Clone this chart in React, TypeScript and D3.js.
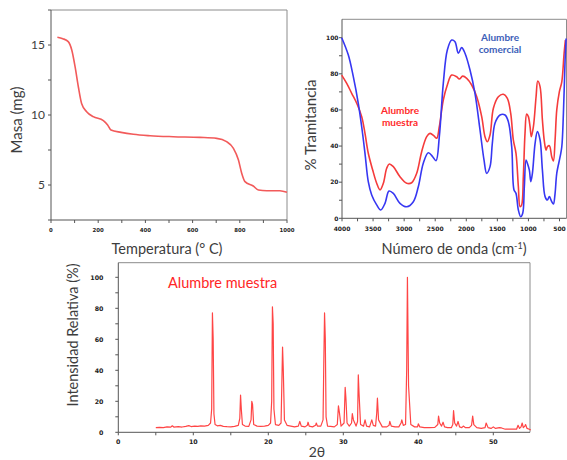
import React from "react";
import * as d3 from "d3";

// ---------- TGA data (temperature °C, mass mg) ----------
const tgaTemp = [27, 50, 73, 88, 102, 116, 130, 151, 179, 222, 240, 254, 297, 349, 420, 518, 631, 702, 744, 773, 794, 808, 822, 857, 879, 914, 970, 1000];
const tgaMass = [15.55, 15.45, 15.24, 14.64, 13.45, 12.0, 10.8, 10.24, 9.88, 9.6, 9.29, 8.93, 8.76, 8.62, 8.52, 8.45, 8.4, 8.33, 8.1, 7.62, 6.8, 5.84, 5.24, 4.93, 4.64, 4.59, 4.59, 4.48];
const tgaXTicks = [0, 200, 400, 600, 800, 1000];
const tgaXMinor = [100, 300, 500, 700, 900];
const tgaYTicks = [5, 10, 15];
const tgaYMinor = [2.5, 7.5, 12.5, 17.5];

// ---------- FTIR data (wavenumber cm-1, % transmittance) ----------
const irBlueWn = [4005, 3898, 3818, 3738, 3683, 3630, 3577, 3522, 3442, 3377, 3308, 3244, 3174, 3067, 2959, 2852, 2772, 2692, 2611, 2541, 2487, 2434, 2370, 2305, 2235, 2182, 2128, 2074, 2021, 1940, 1860, 1779, 1715, 1672, 1618, 1581, 1538, 1457, 1377, 1323, 1269, 1232, 1200, 1162, 1124, 1092, 1066, 1038, 1017, 985, 962, 936, 893, 856, 813, 775, 732, 695, 663, 625, 598, 571, 544, 490, 463, 437, 410, 394];
const irBlueT = [100, 90.4, 78.4, 63.7, 50.7, 36, 20.3, 12.9, 7.4, 4.6, 8.3, 15.1, 13.8, 8.3, 6.4, 9.2, 17.5, 30.5, 36.3, 34.1, 31.9, 45.2, 74.7, 93.2, 98.7, 97.8, 91.4, 94.5, 91.4, 82.1, 69.2, 48.9, 32.3, 24.9, 28.6, 41.5, 52.6, 57.2, 57.2, 53.5, 39.6, 15.7, 13.8, 4.6, 0.9, 2.8, 17.5, 32.3, 30.5, 26.7, 20.3, 24.9, 41.5, 48, 43.4, 26.7, 12, 10.1, 12, 9.2, 7.9, 13.8, 24.9, 34.1, 39.6, 58.1, 87.6, 99.6];
const irRedWn = [4005, 3924, 3844, 3763, 3683, 3630, 3577, 3506, 3442, 3388, 3335, 3281, 3239, 3174, 3067, 2959, 2879, 2798, 2718, 2637, 2584, 2519, 2476, 2434, 2370, 2305, 2235, 2155, 2112, 2058, 1993, 1913, 1832, 1752, 1699, 1661, 1618, 1564, 1484, 1404, 1339, 1285, 1243, 1200, 1162, 1135, 1109, 1082, 1055, 1028, 1001, 974, 953, 920, 877, 850, 813, 775, 743, 716, 695, 663, 625, 598, 571, 544, 502, 463, 426, 405];
const irRedT = [79.3, 74.7, 69.2, 63.7, 56.3, 47, 36, 26.7, 19.4, 15.7, 19.4, 27.7, 30.1, 28.6, 23, 19.4, 19.7, 24.9, 36.9, 45.2, 47, 45.6, 44.3, 50.7, 65.5, 73.8, 79.3, 78.4, 77.1, 78.7, 77.5, 73.8, 67.3, 56.3, 45.2, 42.4, 46.1, 60.9, 67.3, 68.7, 66.4, 58.1, 43.4, 36, 17.5, 6.4, 7.4, 23, 47, 57.7, 56.3, 50.7, 45.2, 50.7, 67.3, 76, 72.9, 54.4, 42.4, 37.8, 39.6, 40.2, 34.1, 31.7, 43.4, 60, 70.1, 75.6, 91.4, 98.7];
const irXTicks = [4000, 3500, 3000, 2500, 2000, 1500, 1000, 500];
const irXMinor = [3750, 3250, 2750, 2250, 1750, 1250, 750];
const irYTicks = [0, 20, 40, 60, 80, 100];
const irYMinor = [10, 30, 50, 70, 90];

// ---------- XRD data (2θ, relative intensity %) ----------
const xrdTheta = [5.0, 5.5, 6.0, 6.5, 7.0, 7.2, 7.4, 8.0, 8.5, 9.0, 9.4, 9.7, 10.2, 10.6, 11.0, 11.5, 12.0, 12.3, 12.45, 12.55, 12.65, 12.75, 12.9, 13.2, 13.6, 14.0, 14.5, 15.0, 15.5, 16.0, 16.2, 16.3, 16.4, 16.55, 16.9, 17.4, 17.7, 17.8, 17.9, 18.05, 18.5, 19.0, 19.5, 20.0, 20.3, 20.45, 20.55, 20.65, 20.75, 20.95, 21.4, 21.7, 21.8, 21.9, 22.0, 22.15, 22.5, 23.0, 23.5, 24.0, 24.2, 24.4, 24.9, 25.2, 25.3, 25.45, 25.9, 26.3, 26.4, 26.55, 27.0, 27.3, 27.4, 27.5, 27.6, 27.7, 27.9, 28.3, 28.8, 29.2, 29.35, 29.5, 29.7, 30.1, 30.25, 30.35, 30.5, 30.8, 31.1, 31.2, 31.35, 31.7, 31.9, 32.0, 32.1, 32.3, 32.7, 32.9, 33.1, 33.5, 33.8, 34.0, 34.3, 34.45, 34.55, 34.7, 35.2, 35.8, 36.1, 36.2, 36.4, 36.9, 37.4, 37.7, 37.8, 38.0, 38.3, 38.45, 38.55, 38.7, 39.0, 39.5, 39.9, 40.0, 40.2, 40.8, 41.5, 42.2, 42.6, 42.7, 42.85, 43.1, 43.3, 43.5, 43.9, 44.4, 44.6, 44.7, 44.85, 45.1, 45.3, 45.5, 45.8, 46.0, 46.3, 46.8, 47.1, 47.25, 47.4, 47.8, 48.4, 48.9, 49.05, 49.3, 49.7, 50.0, 50.3, 50.8, 51.1, 51.6, 52.2, 52.8, 53.1, 53.3, 53.5, 53.7, 53.85, 54.0, 54.2, 54.3, 54.5, 54.8, 55.0];
const xrdInt = [3.0, 3.2, 3.0, 3.5, 3.3, 4.2, 3.4, 3.6, 3.4, 3.8, 4.3, 3.7, 4.0, 3.8, 4.2, 4.0, 4.5, 6.0, 15, 77, 60, 12, 5.0, 4.2, 4.5, 3.8, 3.6, 3.5, 3.8, 4.5, 9, 24, 15, 5.0, 4.0, 3.8, 8, 20, 18, 5.0, 4.0, 3.8, 4.0, 4.5, 6.0, 20, 81, 70, 15, 5.0, 4.5, 6.0, 30, 55, 40, 8, 4.5, 4.0, 3.5, 4.0, 7.0, 4.0, 3.5, 4.5, 6.5, 4.0, 3.5, 4.5, 6.0, 4.0, 4.0, 8, 45, 77, 60, 10, 4.0, 3.8, 3.5, 5.0, 17, 12, 4.0, 6.0, 29, 22, 6.0, 4.0, 6.0, 12, 8, 4.0, 7.0, 37, 25, 5.0, 4.0, 8.0, 4.0, 3.5, 8.0, 4.5, 4.0, 12, 22, 8, 3.5, 3.5, 4.5, 7.0, 4.0, 3.5, 3.5, 6.0, 8.0, 4.5, 5.0, 40, 100, 30, 5.0, 3.5, 3.5, 5.5, 3.5, 3.0, 3.0, 3.2, 5.0, 10.5, 6.0, 4.0, 6.5, 3.5, 3.0, 3.0, 5.0, 14, 6.0, 4.0, 7.0, 3.5, 3.0, 4.0, 3.0, 3.0, 4.5, 10.5, 5.0, 3.0, 2.5, 3.0, 6.0, 3.0, 2.5, 3.5, 2.5, 3.0, 2.8, 2.0, 2.0, 2.0, 2.0, 4.5, 2.5, 3.5, 6.0, 3.0, 4.0, 5.0, 2.5, 2.0, 1.5];
const xrdXTicks = [0, 10, 20, 30, 40, 50];
const xrdXMinor = [5, 15, 25, 35, 45, 55];
const xrdYTicks = [0, 20, 40, 60, 80, 100];
const xrdYMinor = [10, 30, 50, 70, 90];

const TITLE_FONT = "Lato, 'Open Sans', sans-serif";
const TICK_FONT = "'DejaVu Sans', sans-serif";
const TITLE_COLOR = "#3d3d3d";
const AXIS_COLOR = "#555";
const FRAME_COLOR = "#8c8c8c";

function Frame({ x0, x1, y0, y1 }: { x0: number; x1: number; y0: number; y1: number }) {
  return (
    <g>
      <line x1={x0} x2={x1} y1={y0} y2={y0} stroke={FRAME_COLOR} strokeWidth={1} />
      <line x1={x1} x2={x1} y1={y0} y2={y1} stroke={FRAME_COLOR} strokeWidth={1} />
      <line x1={x0} x2={x0} y1={y0} y2={y1} stroke={AXIS_COLOR} strokeWidth={1} />
      <line x1={x0} x2={x1} y1={y1} y2={y1} stroke={AXIS_COLOR} strokeWidth={1} />
    </g>
  );
}

export default function App() {
  // TGA
  const tx = d3.scaleLinear().domain([0, 1000]).range([51, 287]);
  const ty = d3.scaleLinear().domain([2.5, 17.5]).range([220, 10]);
  const tgaLine = d3
    .line<number>()
    .x((_, i) => tx(tgaTemp[i]))
    .y((_, i) => ty(tgaMass[i]))
    .curve(d3.curveMonotoneX)(tgaTemp.map((_, i) => i));

  // FTIR
  const ix = d3.scaleLinear().domain([4000, 500]).range([342, 559.5]);
  const iy = d3.scaleLinear().domain([0, 100]).range([218.3, 37.7]);
  const irRight = 566.5;
  const irTop = 19.3;
  const blueLine = d3
    .line<number>()
    .x((i) => ix(irBlueWn[i]))
    .y((i) => iy(irBlueT[i]))
    .curve(d3.curveCatmullRom.alpha(0.5))(irBlueWn.map((_, i) => i));
  const redLine = d3
    .line<number>()
    .x((i) => ix(irRedWn[i]))
    .y((i) => iy(irRedT[i]))
    .curve(d3.curveCatmullRom.alpha(0.5))(irRedWn.map((_, i) => i));

  // XRD
  const xx = d3.scaleLinear().domain([0, 55]).range([118.3, 530.8]);
  const xy = d3.scaleLinear().domain([0, 100]).range([432.3, 277.3]);
  const xrdLine = d3
    .line<number>()
    .x((i) => xx(xrdTheta[i]))
    .y((i) => xy(xrdInt[i]))(xrdTheta.map((_, i) => i));

  const tickText = { fontFamily: TICK_FONT, fontWeight: 700, fill: "#222" } as const;

  return (
    <svg
      width={567}
      height={460}
      style={{ position: "absolute", left: 0, top: 0, background: "#fff" }}
      xmlns="http://www.w3.org/2000/svg"
    >
      <rect width={567} height={460} fill="#fff" />

      {/* ================= TGA ================= */}
      <Frame x0={tx(0)} x1={tx(1000)} y0={ty(17.5)} y1={ty(2.5)} />
      {tgaXTicks.concat(tgaXMinor).map((t) => (
        <line key={"tgx" + t} x1={tx(t)} x2={tx(t)} y1={ty(2.5)} y2={ty(2.5) + 3} stroke={AXIS_COLOR} />
      ))}
      {tgaXTicks.map((t) => (
        <text key={"tgxl" + t} x={tx(t)} y={ty(2.5) + 12} textAnchor="middle" fontSize={5.4} {...tickText}>
          {t}
        </text>
      ))}
      {tgaYTicks.concat(tgaYMinor).map((t) => (
        <line key={"tgy" + t} x1={tx(0) - 3} x2={tx(0)} y1={ty(t)} y2={ty(t)} stroke={AXIS_COLOR} />
      ))}
      {tgaYTicks.map((t) => (
        <text key={"tgyl" + t} x={45} y={ty(t) + 4} textAnchor="end" fontSize={12} fontFamily={TITLE_FONT} fill={TITLE_COLOR}>
          {t}
        </text>
      ))}
      <path d={tgaLine || ""} fill="none" stroke="#f25a5a" strokeWidth={1.6} />
      <text
        transform="translate(22,120) rotate(-90)"
        textAnchor="middle"
        fontSize={15}
        fontFamily={TITLE_FONT}
        fill={TITLE_COLOR}
      >
        Masa (mg)
      </text>
      <text x={167} y={254} textAnchor="middle" fontSize={14.5} fontFamily={TITLE_FONT} fill={TITLE_COLOR}>
        Temperatura (° C)
      </text>

      {/* ================= FTIR ================= */}
      <Frame x0={ix(4000)} x1={irRight} y0={irTop} y1={iy(0)} />
      {irXTicks.concat(irXMinor).map((t) => (
        <line key={"ix" + t} x1={ix(t)} x2={ix(t)} y1={iy(0)} y2={iy(0) + 3} stroke={AXIS_COLOR} />
      ))}
      {irXTicks.map((t) => (
        <text key={"ixl" + t} x={ix(t)} y={iy(0) + 13} textAnchor="middle" fontSize={6} {...tickText}>
          {t}
        </text>
      ))}
      {irYTicks.concat(irYMinor).map((t) => (
        <line key={"iy" + t} x1={ix(4000) - 3} x2={ix(4000)} y1={iy(t)} y2={iy(t)} stroke={AXIS_COLOR} />
      ))}
      {irYTicks.map((t) => (
        <text key={"iyl" + t} x={338.5} y={iy(t) + 2.2} textAnchor="end" fontSize={6} {...tickText}>
          {t}
        </text>
      ))}
      <path d={redLine || ""} fill="none" stroke="#f53b3b" strokeWidth={1.6} />
      <path d={blueLine || ""} fill="none" stroke="#3737f2" strokeWidth={1.6} />
      <text x={500} y={40.5} textAnchor="middle" fontSize={10} fontWeight={700} fontFamily={TITLE_FONT} fill="#3d60b8">
        Alumbre
      </text>
      <text x={500} y={53} textAnchor="middle" fontSize={10} fontWeight={700} fontFamily={TITLE_FONT} fill="#3d60b8">
        comercial
      </text>
      <text x={400} y={113.5} textAnchor="middle" fontSize={10} fontWeight={700} fontFamily={TITLE_FONT} fill="#ff2a2a">
        Alumbre
      </text>
      <text x={400} y={126} textAnchor="middle" fontSize={10} fontWeight={700} fontFamily={TITLE_FONT} fill="#ff2a2a">
        muestra
      </text>
      <text
        transform="translate(316,125) rotate(-90)"
        textAnchor="middle"
        fontSize={15}
        fontFamily={TITLE_FONT}
        fill={TITLE_COLOR}
      >
        % Tramitancia
      </text>
      <text x={454} y={254} textAnchor="middle" fontSize={14.5} fontFamily={TITLE_FONT} fill={TITLE_COLOR}>
        Número de onda (cm
        <tspan dy={-5} fontSize={9}>-1</tspan>
        <tspan dy={5}>)</tspan>
      </text>

      {/* ================= XRD ================= */}
      <Frame x0={xx(0)} x1={530} y0={262.7} y1={xy(0)} />
      {xrdXTicks.concat(xrdXMinor.filter((t) => t < 55)).map((t) => (
        <line key={"xx" + t} x1={xx(t)} x2={xx(t)} y1={xy(0)} y2={xy(0) + 3} stroke={AXIS_COLOR} />
      ))}
      {xrdXTicks.map((t) => (
        <text key={"xxl" + t} x={xx(t)} y={xy(0) + 12} textAnchor="middle" fontSize={6.3} {...tickText}>
          {t}
        </text>
      ))}
      {xrdYTicks.concat(xrdYMinor).map((t) => (
        <line key={"xy" + t} x1={xx(0) - 3} x2={xx(0)} y1={xy(t)} y2={xy(t)} stroke={AXIS_COLOR} />
      ))}
      {xrdYTicks.map((t) => (
        <text key={"xyl" + t} x={103.5} y={xy(t) + 2.3} textAnchor="end" fontSize={6.3} {...tickText}>
          {t}
        </text>
      ))}
      <path d={xrdLine || ""} fill="none" stroke="#ff4545" strokeWidth={1.2} strokeLinejoin="round" />
      <text x={168} y={288} fontSize={14.5} fontFamily={TITLE_FONT} fill="#ff2626">
        Alumbre muestra
      </text>
      <text
        transform="translate(78,335) rotate(-90)"
        textAnchor="middle"
        fontSize={14.5}
        fontFamily={TITLE_FONT}
        fill={TITLE_COLOR}
      >
        Intensidad Relativa (%)
      </text>
      <text x={317} y={457} textAnchor="middle" fontSize={14} fontFamily={TITLE_FONT} fill={TITLE_COLOR}>
        2θ
      </text>
    </svg>
  );
}
